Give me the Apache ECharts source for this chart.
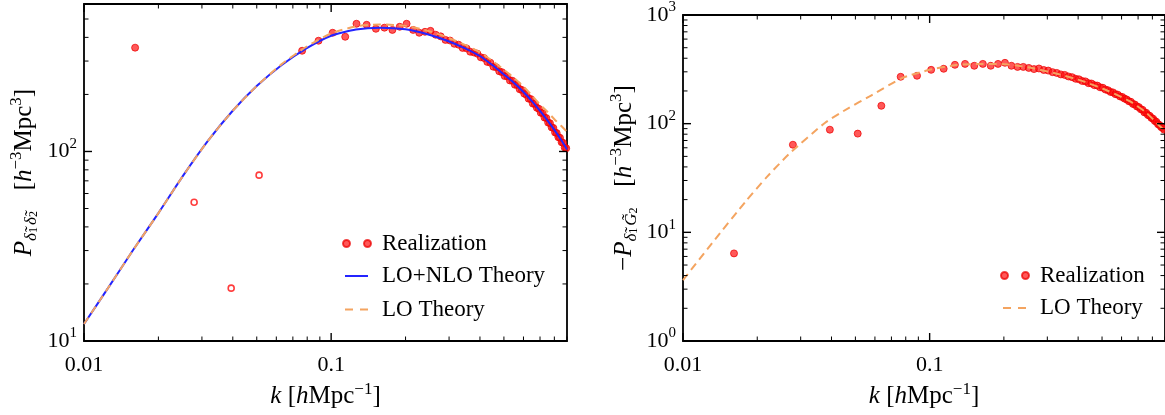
<!DOCTYPE html>
<html>
<head>
<meta charset="utf-8">
<script src="https://cdn.jsdelivr.net/npm/echarts@6/dist/echarts.min.js"></script>
<style>html,body{margin:0;padding:0;background:#fff}#c{width:1165px;height:415px}</style>
</head>
<body>
<div id="c"></div>
<script>
// ---------------- data ----------------
const kBins = [0.0161,0.0279,0.0394,0.0511,0.0637,0.0763,0.0889,0.1014,0.114,0.1266,0.1392,0.1517,0.1643,0.1769,0.1894,0.202,0.2146,0.2272,0.2397,0.2523,0.2649,0.2774,0.29,0.3026,0.3151,0.3277,0.3403,0.3529,0.3654,0.378,0.3906,0.4031,0.4157,0.4283,0.4408,0.4534,0.466,0.4786,0.4911,0.5037,0.5163,0.5288,0.5414,0.554,0.5665,0.5791,0.5917,0.6043,0.6168,0.6294,0.642,0.6545,0.6671,0.6797,0.6922,0.7048,0.7174,0.73,0.7425,0.7551,0.7677,0.7802,0.7928,0.8054,0.8179,0.8305,0.8431,0.8557,0.8682,0.8808,0.8934];
// left panel realization (negative values drawn as open circles)
const leftRealP = [353,-54,-19,-75,null,340,384,423,403,472,466,444,450,438,455,472,438,423,428,433,413,405,388,385,370,366,352,350,336,333,328,314,311,297,294,280,278,265,262,250,249,237,236,225,224,213,211,202,199,190,189,179,178,170,168,160,159,151,150,142,141,134,133,126,125,119,118,112,111,105,104];
// right panel realization
const rightRealP = [6.4,64,88,81,146,270,276,313,320,348,355,341,355,341,355,363,341,333,333,326,318,322,312,308,298,293,284,281,272,268,259,256,247,245,236,234,226,224,216,214,206,203,196,194,187,185,178,176,170,167,161,159,152,150,144,142,136,134,127,126,120,118,113,111,106,104,99,97,93,91,88];

const leftCurveK = [0.01,0.0126,0.0158,0.02,0.0251,0.0316,0.0398,0.0501,0.0631,0.0794,0.1,0.126,0.158,0.2,0.251,0.295,0.35,0.401,0.45,0.5,0.546,0.6,0.65,0.7,0.75,0.8,0.85,0.9];
const leftNloP = [12.3,19.3,30.2,47.3,74.1,113,163,222,286,350,408,440,450,441,412,384,349,318,285,255,232,206,184,164,146,130,115.6,102.5];
const leftLoP  = [12.3,19.3,30.2,47.3,74.1,113,163,222,289,357,420,457,468,460,430,400,364,333,300,270,246,220,197,177,162,148,137,127];

const rightCurveK = [0.01,0.0131,0.0181,0.0218,0.027,0.0377,0.0471,0.0568,0.0771,0.1,0.1294,0.16,0.195,0.25,0.331,0.42,0.527,0.65,0.75,0.878,0.9];
const rightLoP    = [3.63,7.93,19.7,32,53,102,140,177,262,313,348,354,355,330,287,245,201,160,128,90,86];

const xMajorTicks = [0.01,0.1];
const xTickLabels = ['0.01','0.1'];
const xMinorTicks = [0.02,0.03,0.04,0.05,0.06,0.07,0.08,0.09,0.2,0.3,0.4,0.5,0.6,0.7,0.8,0.9];
const leftYMajor = [10,100];
const leftYMinor = [20,30,40,50,60,70,80,90,200,300,400,500,600];
const rightYMajor = [1,10,100,1000];
const rightYMinor = [2,3,4,5,6,7,8,9,20,30,40,50,60,70,80,90,200,300,400,500,600,700,800,900];

// ---------------- styling ----------------
const SERIF = 'Liberation Serif';
const RED = 'rgba(255,10,10,0.85)';
const REDEDGE = 'rgba(235,0,0,0.9)';
const BLUE = '#2424ff';
const ORANGE = '#f4a460';
const FS = 22;

const rich = {
  n: {fontFamily: SERIF, fontSize: FS, color: '#000', lineHeight: 30, verticalAlign: 'middle'},
  sup: {fontFamily: SERIF, fontSize: 15, color: '#000', lineHeight: 15, verticalAlign: 'top'}
};
const trich = {
  n: {fontFamily: SERIF, fontSize: 25, color: '#000', lineHeight: 32, verticalAlign: 'middle'},
  it: {fontFamily: SERIF, fontSize: 25, fontStyle: 'italic', color: '#000', lineHeight: 32, verticalAlign: 'middle'},
  sup: {fontFamily: SERIF, fontSize: 17, color: '#000', lineHeight: 17, verticalAlign: 'top'},
  sub: {fontFamily: SERIF, fontSize: 17, fontStyle: 'italic', color: '#000', lineHeight: 17, verticalAlign: 'bottom'},
  subsub: {fontFamily: SERIF, fontSize: 12, color: '#000', lineHeight: 10, verticalAlign: 'bottom', padding: [0, 2, 0, 0]}
};

function xLabel(v) {
  for (let i = 0; i < xMajorTicks.length; i++) {
    if (Math.abs(Math.log10(v) - Math.log10(xMajorTicks[i])) < 1e-6) return '{n|' + xTickLabels[i] + '}';
  }
  return '';
}
function yLabel(v) {
  const e = Math.log10(v), r = Math.round(e);
  if (Math.abs(e - r) > 1e-6) return '';
  return '{n|10}{sup|' + r + '}';
}

function tickData(xMaj, xMin, yMaj, yMin, xlo, ylo) {
  const d = [];
  xMaj.forEach(v => d.push([v, ylo, 0, 1]));
  xMin.forEach(v => d.push([v, ylo, 0, 0]));
  yMaj.forEach(v => d.push([xlo, v, 1, 1]));
  yMin.forEach(v => d.push([xlo, v, 1, 0]));
  return d;
}
function renderTick(params, api) {
  const cs = params.coordSys;
  const kind = api.value(2), major = api.value(3);
  const len = major ? 8 : 4.5;
  const w = major ? 1.4 : 1;
  const st = {stroke: '#000', lineWidth: w};
  const p = api.coord([api.value(0), api.value(1)]);
  if (kind === 0) {
    const x = p[0];
    return {type: 'group', children: [
      {type: 'line', shape: {x1: x, y1: cs.y + cs.height, x2: x, y2: cs.y + cs.height - len}, style: st},
      {type: 'line', shape: {x1: x, y1: cs.y, x2: x, y2: cs.y + len}, style: st}
    ]};
  } else {
    const y = p[1];
    return {type: 'group', children: [
      {type: 'line', shape: {x1: cs.x, y1: y, x2: cs.x + len, y2: y}, style: st},
      {type: 'line', shape: {x1: cs.x + cs.width, y1: y, x2: cs.x + cs.width - len, y2: y}, style: st}
    ]};
  }
}

function pairs(ks, ps, filt) {
  const out = [];
  for (let i = 0; i < ks.length; i++) {
    const p = ps[i];
    if (p === null || p === undefined) continue;
    if (filt === 'pos' && p > 0) out.push([ks[i], p]);
    if (filt === 'neg' && p < 0) out.push([ks[i], -p]);
    if (!filt) out.push([ks[i], p]);
  }
  return out;
}

function xAxisCfg(gi) {
  return {
    type: 'log', logBase: 10, gridIndex: gi, min: 0.01, max: 0.9,
    axisLine: {show: false}, axisTick: {show: false}, splitLine: {show: false}, minorTick: {show: false},
    axisLabel: {formatter: xLabel, margin: 9, rich: rich, showMaxLabel: false},
    name: '{it|k}{n| [}{it|h}{n|Mpc}{sup|−1}{n|]}', nameLocation: 'middle', nameGap: 34,
    nameTextStyle: {rich: trich}
  };
}

const dotsIcon = 'path://M0,3.5a3.5,3.5 0 1,0 7,0a3.5,3.5 0 1,0 -7,0M21,3.5a3.5,3.5 0 1,0 7,0a3.5,3.5 0 1,0 -7,0';
const solidIcon = 'path://M0,0H23V2H0Z';
const dashIcon = 'path://M0,0H8V2H0ZM15,0H23V2H15Z';
const legText = {fontFamily: SERIF, fontSize: 23, color: '#000', lineHeight: 22};

function dotLegend(left, top) {
  return {orient: 'vertical', left: left, top: top, padding: 0, itemWidth: 28, itemHeight: 7, selectedMode: false,
    textStyle: Object.assign({padding: [0, 0, 0, 6]}, legText),
    data: [{name: 'Realization', icon: dotsIcon}]};
}
function lineLegend(left, top, names, icons) {
  return {orient: 'vertical', left: left, top: top, padding: 0, itemGap: 10.5, itemWidth: 23, itemHeight: 2, selectedMode: false,
    textStyle: Object.assign({padding: [0, 0, 0, 9]}, legText),
    data: names.map((n, i) => ({name: n, icon: icons[i]}))};
}

const option = {
  animation: false,
  backgroundColor: '#fff',
  grid: [
    {left: 84, top: 4, right: 598, bottom: 74, show: true, borderColor: '#000', borderWidth: 1.8, backgroundColor: 'transparent'},
    {left: 683, top: 15, right: -3, bottom: 74, show: true, borderColor: '#000', borderWidth: 1.8, backgroundColor: 'transparent'}
  ],
  xAxis: [xAxisCfg(0), xAxisCfg(1)],
  yAxis: [
    {type: 'log', logBase: 10, gridIndex: 0, min: 10, max: 600,
     axisLine: {show: false}, axisTick: {show: false}, splitLine: {show: false},
     axisLabel: {formatter: yLabel, margin: 7, rich: rich, showMaxLabel: false},
     name: '{it|P}{sub|δ̃}{subsub|1}{sub|δ̃}{subsub|2}{n|   [}{it|h}{sup|−3}{n|Mpc}{sup|3}{n|]}',
     nameLocation: 'middle', nameGap: 44, nameRotate: 90, nameTextStyle: {rich: trich}},
    {type: 'log', logBase: 10, gridIndex: 1, min: 1, max: 1000,
     axisLine: {show: false}, axisTick: {show: false}, splitLine: {show: false},
     axisLabel: {formatter: yLabel, margin: 7, rich: rich},
     name: '{n|−}{it|P}{sub|δ̃}{subsub|1}{sub|G̃}{subsub|2}{n|   [}{it|h}{sup|−3}{n|Mpc}{sup|3}{n|]}',
     nameLocation: 'middle', nameGap: 43, nameRotate: 90, nameTextStyle: {rich: trich}}
  ],
  legend: [
    dotLegend(342, 232),
    lineLegend(345, 264.5, ['LO+NLO Theory', 'LO Theory'], [solidIcon, dashIcon]),
    dotLegend(1000, 264),
    lineLegend(1003, 296.5, ['LO Theory'], [dashIcon])
  ],
  series: [
    {name: 'Realization', type: 'scatter', xAxisIndex: 0, yAxisIndex: 0, symbolSize: 7, z: 2,
     itemStyle: {color: RED, borderColor: REDEDGE, borderWidth: 1}, data: pairs(kBins, leftRealP, 'pos')},
    {name: 'Realization (neg)', type: 'scatter', xAxisIndex: 0, yAxisIndex: 0, symbolSize: 6, z: 2,
     itemStyle: {color: '#fff', borderColor: 'rgba(255,0,0,0.95)', borderWidth: 1.6}, data: pairs(kBins, leftRealP, 'neg')},
    {name: 'LO+NLO Theory', type: 'line', xAxisIndex: 0, yAxisIndex: 0, symbol: 'none', smooth: 0.2, z: 3,
     lineStyle: {color: BLUE, width: 2}, itemStyle: {color: BLUE}, data: pairs(leftCurveK, leftNloP)},
    {name: 'LO Theory', type: 'line', xAxisIndex: 0, yAxisIndex: 0, symbol: 'none', smooth: 0.2, z: 4,
     lineStyle: {color: ORANGE, width: 2, type: [8, 5]}, itemStyle: {color: ORANGE}, data: pairs(leftCurveK, leftLoP)},
    {name: 'Realization', type: 'scatter', xAxisIndex: 1, yAxisIndex: 1, symbolSize: 7, z: 2,
     itemStyle: {color: RED, borderColor: REDEDGE, borderWidth: 1}, data: pairs(kBins, rightRealP)},
    {name: 'LO Theory', type: 'line', xAxisIndex: 1, yAxisIndex: 1, symbol: 'none', smooth: 0.2, z: 4,
     lineStyle: {color: ORANGE, width: 2, type: [8, 5]}, itemStyle: {color: ORANGE}, data: pairs(rightCurveK, rightLoP)},
    {type: 'custom', xAxisIndex: 0, yAxisIndex: 0, z: 10, silent: true, renderItem: renderTick,
     data: tickData(xMajorTicks, xMinorTicks, leftYMajor, leftYMinor, 0.01, 10)},
    {type: 'custom', xAxisIndex: 1, yAxisIndex: 1, z: 10, silent: true, renderItem: renderTick,
     data: tickData(xMajorTicks, xMinorTicks, rightYMajor, rightYMinor, 0.01, 1)}
  ]
};
const chart = echarts.init(document.getElementById('c'), null, {renderer: 'canvas'});
chart.setOption(option);
</script>
</body>
</html>
